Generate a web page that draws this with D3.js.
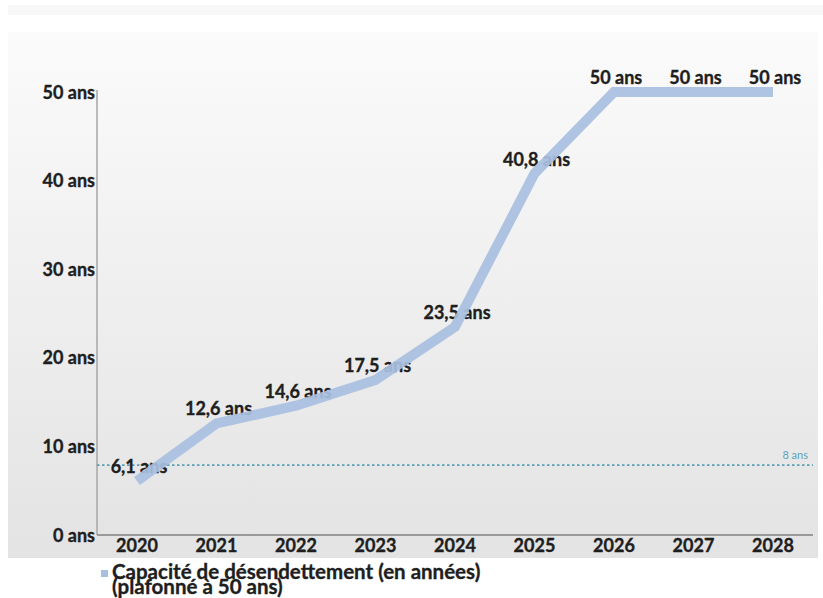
<!DOCTYPE html>
<html lang="fr">
<head>
<meta charset="utf-8">
<script src="https://cdn.jsdelivr.net/npm/d3@7"></script>
<style>
  html, body { margin: 0; padding: 0; background: #ffffff; }
  svg { display: block; font-family: Lato, "Open Sans", sans-serif; }
</style>
</head>
<body>
<svg id="chart" width="823" height="598"></svg>
<script>
// Capacité de désendettement, 2020–2028 (plafonnée à 50 ans)
const years = ["2020", "2021", "2022", "2023", "2024", "2025", "2026", "2027", "2028"];
const capacite = [6.1, 12.6, 14.6, 17.5, 23.5, 40.8, 50, 50, 50];
const yTicks = [0, 10, 20, 30, 40, 50];
const seuil = 8;
const legendLines = ["Capacité de désendettement (en années)", "(plafonné à 50 ans)"];

const fmt = v => String(v).replace(".", ",") + " ans";

const svg = d3.select("#chart");
const plot = { left: 97, right: 813, top: 92, bottom: 535 };
const ink = "#1e1e1e";
const seriesColor = "#a9bfe0";

const x = d3.scalePoint().domain(years).range([137, 773]);
const y = d3.scaleLinear().domain([0, 50]).range([plot.bottom, plot.top]);

// Background panel gradient
const defs = svg.append("defs");
const grad = defs.append("linearGradient").attr("id", "panelGrad")
  .attr("x1", 0).attr("y1", 0).attr("x2", 0).attr("y2", 1);
grad.append("stop").attr("offset", "0%").attr("stop-color", "#fbfbfb");
grad.append("stop").attr("offset", "45%").attr("stop-color", "#f0f0f0");
grad.append("stop").attr("offset", "100%").attr("stop-color", "#e3e3e3");

svg.append("rect").attr("x", 8).attr("y", 5).attr("width", 815).attr("height", 10)
  .attr("fill", "#f8f8f8");
svg.append("rect").attr("x", 8).attr("y", 32).attr("width", 810).attr("height", 526)
  .attr("fill", "url(#panelGrad)");

// Shared bold text style
const bold = (sel, size) => sel
  .attr("font-size", size).attr("font-weight", 700).attr("fill", ink)
  .attr("stroke", ink).attr("stroke-width", 0.35);

// Y axis labels
bold(svg.append("g").selectAll("text").data(yTicks).join("text")
  .attr("x", 95).attr("y", d => y(d) + 2)
  .attr("text-anchor", "end").attr("dominant-baseline", "middle")
  .text(d => d + " ans"), 18);

// Axis lines
svg.append("line").attr("x1", plot.left).attr("x2", plot.left)
  .attr("y1", y(50) - 2).attr("y2", plot.bottom)
  .attr("stroke", "#a6a6a6").attr("stroke-width", 1.5);
svg.append("line").attr("x1", plot.left).attr("x2", plot.right)
  .attr("y1", plot.bottom).attr("y2", plot.bottom)
  .attr("stroke", "#999999").attr("stroke-width", 2);

// X axis labels
bold(svg.append("g").selectAll("text").data(years).join("text")
  .attr("x", d => x(d)).attr("y", 547)
  .attr("text-anchor", "middle").attr("dominant-baseline", "middle")
  .text(d => d), 18);

// Threshold line at 8 ans
svg.append("line").attr("x1", plot.left).attr("x2", plot.right)
  .attr("y1", y(seuil) + 1).attr("y2", y(seuil) + 1)
  .attr("stroke", "#5a9fb4").attr("stroke-width", 1.6)
  .attr("stroke-dasharray", "2.5,2.5");
svg.append("text").attr("x", 808).attr("y", y(seuil) - 5)
  .attr("text-anchor", "end").attr("font-size", 11).attr("fill", "#5fa3bb")
  .text(fmt(seuil));

// Value labels (drawn beneath the line)
bold(svg.append("g").selectAll("text").data(capacite).join("text")
  .attr("x", (d, i) => x(years[i]) + 2)
  .attr("y", d => y(d) - 8)
  .attr("text-anchor", "middle")
  .text(d => fmt(d)), 18);

// Series line
const line = d3.line().x((d, i) => x(years[i])).y(d => y(d));
svg.append("path").datum(capacite)
  .attr("d", line)
  .attr("fill", "none")
  .attr("stroke", seriesColor)
  .attr("stroke-opacity", 0.93)
  .attr("stroke-width", 10)
  .attr("stroke-linejoin", "miter");

// Legend
svg.append("rect").attr("x", 101).attr("y", 570).attr("width", 7).attr("height", 7)
  .attr("fill", seriesColor);
bold(svg.append("g").selectAll("text").data(legendLines).join("text")
  .attr("x", 112).attr("y", (d, i) => 579 + i * 15)
  .text(d => d), 20.5);
</script>
</body>
</html>
